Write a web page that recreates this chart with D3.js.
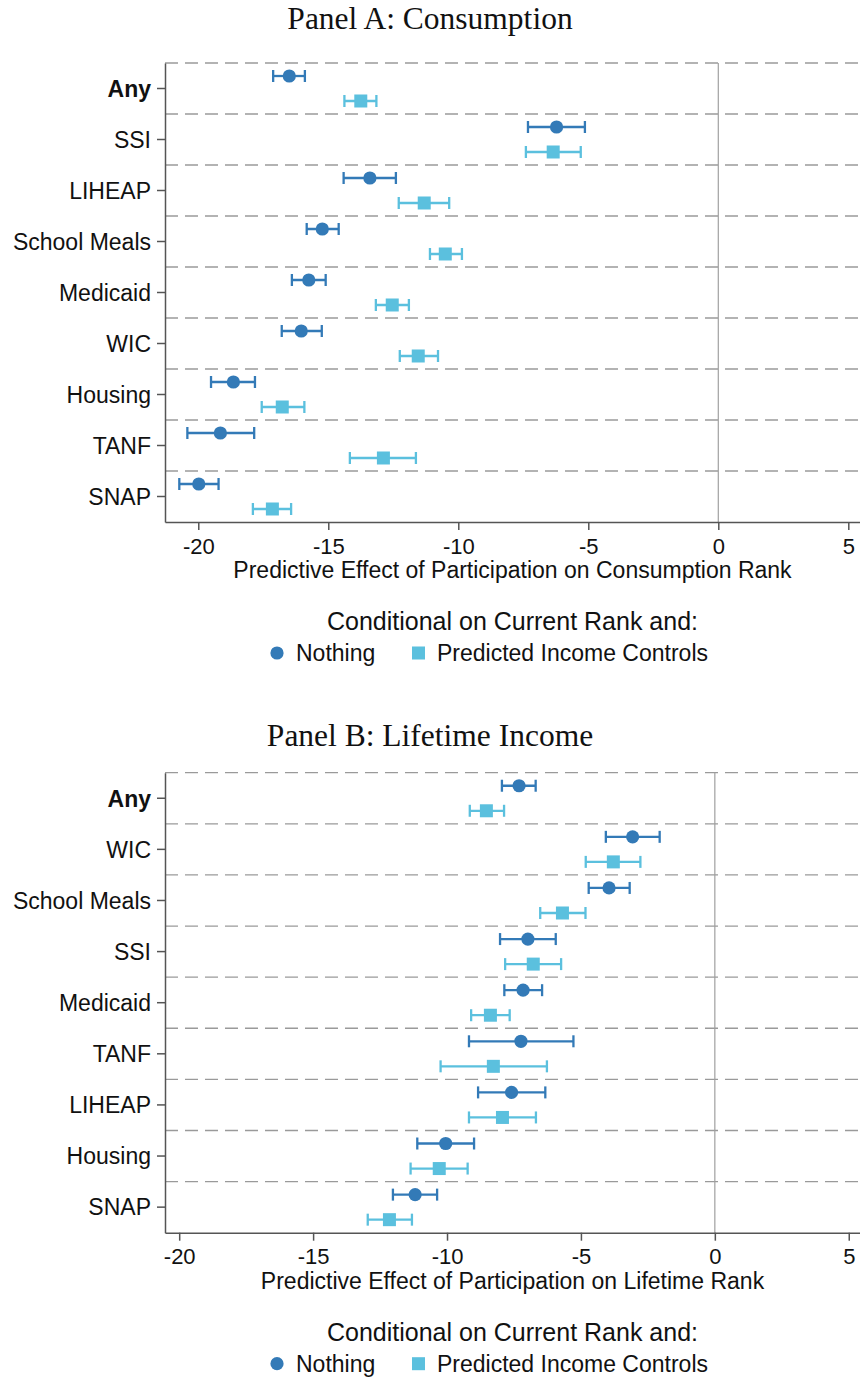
<!DOCTYPE html>
<html>
<head>
<meta charset="utf-8">
<script src="https://cdn.jsdelivr.net/npm/d3@7"></script>
<style>
  html, body { margin: 0; padding: 0; background: #fff; }
  svg { display: block; }
  .sans { font-family: "Liberation Sans", Arial, Helvetica, sans-serif; }
  .serif { font-family: "Liberation Serif", "Times New Roman", serif; }
</style>
</head>
<body>
<svg id="chart" width="860" height="1379"></svg>
<script>
// Panel A: Consumption rank
const categoriesA = ["Any", "SSI", "LIHEAP", "School Meals", "Medicaid", "WIC", "Housing", "TANF", "SNAP"];
const nothingA    = [-16.50, -6.22, -13.40, -15.23, -15.75, -16.04, -18.65, -19.15, -19.98];
const nothingALo  = [-17.12, -7.32, -14.41, -15.83, -16.40, -16.79, -19.51, -20.42, -20.73];
const nothingAHi  = [-15.90, -5.13, -12.40, -14.60, -15.10, -15.25, -17.82, -17.85, -19.22];
const predictedA   = [-13.75, -6.35, -11.31, -10.50, -12.54, -11.54, -16.77, -12.88, -17.15];
const predictedALo = [-14.38, -7.40, -12.29, -11.09, -13.17, -12.25, -17.56, -14.17, -17.90];
const predictedAHi = [-13.15, -5.29, -10.35, -9.86, -11.90, -10.78, -15.92, -11.63, -16.43];

// Panel B: Lifetime income rank
const categoriesB = ["Any", "WIC", "School Meals", "SSI", "Medicaid", "TANF", "LIHEAP", "Housing", "SNAP"];
const nothingB    = [-7.31, -3.07, -3.95, -6.98, -7.16, -7.24, -7.59, -10.05, -11.19];
const nothingBLo  = [-7.95, -4.07, -4.71, -8.02, -7.86, -9.18, -8.84, -11.11, -12.02];
const nothingBHi  = [-6.69, -2.06, -3.18, -5.94, -6.45, -5.28, -6.33, -8.99, -10.37];
const predictedB   = [-8.53, -3.79, -5.69, -6.78, -8.38, -8.27, -7.93, -10.29, -12.15];
const predictedBLo = [-9.15, -4.82, -6.52, -7.83, -9.10, -10.24, -9.18, -11.36, -12.96];
const predictedBHi = [-7.87, -2.78, -4.83, -5.74, -7.66, -6.27, -6.68, -9.23, -11.31];

const xTicks = [-20, -15, -10, -5, 0, 5];
const legendTitle = "Conditional on Current Rank and:";
const seriesNames = ["Nothing", "Predicted Income Controls"];
const colors = ["#337ab7", "#5bc0de"];

const svg = d3.select("#chart");

function drawPanel(cfg) {
  const { title, xLabel, cats, series, top, bottom, xDomain, titleY } = cfg;
  const left = 165, right = 860;
  const g = svg.append("g");

  const x = d3.scaleLinear().domain(xDomain).range([left, right]);
  const y = d3.scaleBand().domain(cats).range([top, bottom]).padding(0);
  const bw = y.bandwidth();

  // Title
  g.append("text").attr("class", "serif")
    .attr("x", 430).attr("y", titleY)
    .attr("text-anchor", "middle").attr("font-size", 31.5).attr("fill", "#111")
    .text(title);

  // Dashed separators at the top of each band
  g.append("g").selectAll("line").data(cats).join("line")
    .attr("x1", left).attr("x2", right)
    .attr("y1", d => y(d)).attr("y2", d => y(d))
    .attr("stroke", "#9a9a9a").attr("stroke-width", 1.3)
    .attr("stroke-dasharray", "13,7");

  // Zero reference line
  g.append("line")
    .attr("x1", x(0)).attr("x2", x(0))
    .attr("y1", top).attr("y2", bottom)
    .attr("stroke", "#a0a0a0").attr("stroke-width", 1.2);

  // Estimates with confidence intervals
  series.forEach((s, si) => {
    const off = (si === 0 ? -0.245 : 0.245) * bw;
    const rows = cats.map((c, i) => ({ c, v: s.v[i], lo: s.lo[i], hi: s.hi[i] }));
    const sg = g.append("g");
    const cy = d => y(d.c) + bw / 2 + off;
    sg.selectAll("line.ci").data(rows).join("line").attr("class", "ci")
      .attr("x1", d => x(d.lo)).attr("x2", d => x(d.hi))
      .attr("y1", cy).attr("y2", cy)
      .attr("stroke", colors[si]).attr("stroke-width", 2.3);
    ["lo", "hi"].forEach(k => {
      sg.selectAll("line.cap-" + k).data(rows).join("line").attr("class", "cap-" + k)
        .attr("x1", d => x(d[k])).attr("x2", d => x(d[k]))
        .attr("y1", d => cy(d) - 6).attr("y2", d => cy(d) + 6)
        .attr("stroke", colors[si]).attr("stroke-width", 2.3);
    });
    if (si === 0) {
      sg.selectAll("circle").data(rows).join("circle")
        .attr("cx", d => x(d.v)).attr("cy", cy).attr("r", 6.6)
        .attr("fill", colors[si]);
    } else {
      sg.selectAll("rect").data(rows).join("rect")
        .attr("x", d => x(d.v) - 6.5).attr("y", d => cy(d) - 6.5)
        .attr("width", 13).attr("height", 13)
        .attr("fill", colors[si]);
    }
  });

  // Axes
  const yAxis = d3.axisLeft(y).tickSize(8).tickSizeOuter(0).tickPadding(6);
  const ya = g.append("g").attr("transform", `translate(${left},0)`).call(yAxis);
  ya.select(".domain").attr("stroke", "#555").attr("stroke-width", 1.5);
  ya.selectAll(".tick line").attr("stroke", "#555").attr("stroke-width", 1.5);
  ya.selectAll(".tick text").attr("class", "sans")
    .attr("font-size", 23).attr("fill", "#111").attr("dy", "0.36em")
    .attr("font-weight", d => d === "Any" ? "bold" : "normal");

  const xAxis = d3.axisBottom(x).tickValues(xTicks).tickSize(8).tickSizeOuter(0)
    .tickPadding(4).tickFormat(d => String(d));
  const xa = g.append("g").attr("transform", `translate(0,${bottom})`).call(xAxis);
  xa.select(".domain").attr("stroke", "#555").attr("stroke-width", 1.5);
  xa.selectAll(".tick line").attr("stroke", "#555").attr("stroke-width", 1.5);
  xa.selectAll(".tick text").attr("class", "sans")
    .attr("font-size", 22).attr("fill", "#111").attr("dy", "0.9em");

  const cx = (left + right) / 2;
  g.append("text").attr("class", "sans")
    .attr("x", cx).attr("y", bottom + 56)
    .attr("text-anchor", "middle").attr("font-size", 23).attr("fill", "#111")
    .text(xLabel);

  // Legend
  g.append("text").attr("class", "sans")
    .attr("x", cx).attr("y", bottom + 108)
    .attr("text-anchor", "middle").attr("font-size", 25).attr("fill", "#111")
    .text(legendTitle);
  const ly = bottom + 131;
  g.append("circle").attr("cx", 277).attr("cy", ly).attr("r", 6.6).attr("fill", colors[0]);
  g.append("text").attr("class", "sans").attr("x", 296).attr("y", ly + 8)
    .attr("font-size", 23).attr("fill", "#111").text(seriesNames[0]);
  g.append("rect").attr("x", 412).attr("y", ly - 6.5).attr("width", 13).attr("height", 13)
    .attr("fill", colors[1]);
  g.append("text").attr("class", "sans").attr("x", 437).attr("y", ly + 8)
    .attr("font-size", 23).attr("fill", "#111").text(seriesNames[1]);
}

drawPanel({
  title: "Panel A: Consumption",
  xLabel: "Predictive Effect of Participation on Consumption Rank",
  cats: categoriesA,
  series: [
    { v: nothingA, lo: nothingALo, hi: nothingAHi },
    { v: predictedA, lo: predictedALo, hi: predictedAHi }
  ],
  top: 63, bottom: 522, xDomain: [-21.28, 5.45], titleY: 29
});

drawPanel({
  title: "Panel B: Lifetime Income",
  xLabel: "Predictive Effect of Participation on Lifetime Rank",
  cats: categoriesB,
  series: [
    { v: nothingB, lo: nothingBLo, hi: nothingBHi },
    { v: predictedB, lo: predictedBLo, hi: predictedBHi }
  ],
  top: 772.7, bottom: 1232.7, xDomain: [-20.53, 5.42], titleY: 746
});
</script>
</body>
</html>
